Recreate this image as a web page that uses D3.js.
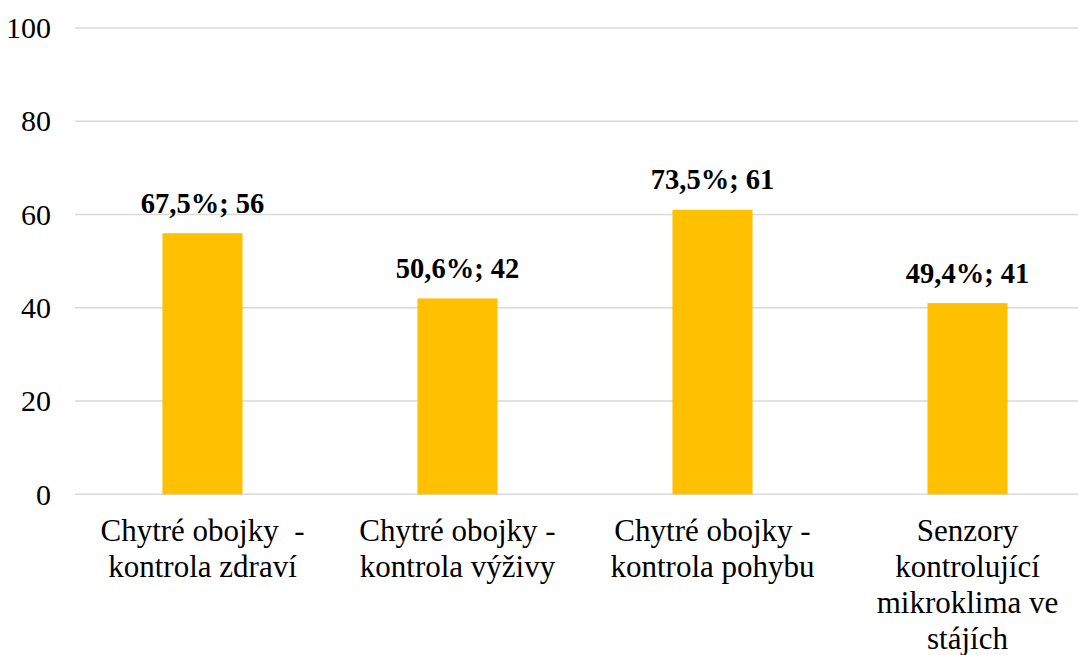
<!DOCTYPE html>
<html><head><meta charset="utf-8">
<script src="https://cdn.jsdelivr.net/npm/d3@7"></script>
<style>html,body{margin:0;padding:0;background:#fff;overflow:hidden}</style>
</head><body>
<svg id="c" width="1078" height="655"></svg>
<script>
const categories = ["Chytré obojky  -\nkontrola zdraví", "Chytré obojky -\nkontrola výživy", "Chytré obojky -\nkontrola pohybu", "Senzory\nkontrolující\nmikroklima ve\nstájích"];
const counts = [56, 42, 61, 41];
const percents = ["67,5%", "50,6%", "73,5%", "49,4%"];
const yTicks = [0, 20, 40, 60, 80, 100];

const FONT = '"Liberation Serif", "Times New Roman", serif';
const svg = d3.select("#c");
const x = d3.scaleBand().domain(d3.range(categories.length)).range([75, 1095]);
const y = d3.scaleLinear().domain([0, 100]).range([494.3, 28]);
const barW = x.bandwidth() * 0.314;

// gridlines
svg.append("g").selectAll("line").data(yTicks).join("line")
  .attr("x1", 75).attr("x2", 1078)
  .attr("y1", d => y(d)).attr("y2", d => y(d))
  .attr("stroke", "#d9d9d9").attr("stroke-width", 1.5);

// y tick labels
svg.append("g").selectAll("text").data(yTicks).join("text")
  .attr("x", 51).attr("y", d => y(d)).attr("dy", "0.34em")
  .attr("text-anchor", "end")
  .style("font-family", FONT).style("font-size", "30px")
  .attr("fill", "#000").text(d => d);

// bars
svg.append("g").selectAll("rect").data(counts).join("rect")
  .attr("x", (d, i) => x(i) + x.bandwidth() / 2 - barW / 2)
  .attr("width", barW)
  .attr("y", d => y(d)).attr("height", d => y(0) - y(d))
  .attr("fill", "#FFC000");

// data labels
svg.append("g").selectAll("text").data(counts).join("text")
  .attr("x", (d, i) => x(i) + x.bandwidth() / 2)
  .attr("y", d => y(d) - 20.5)
  .attr("text-anchor", "middle")
  .style("font-family", FONT).style("font-size", "28.5px").style("font-weight", "bold")
  .attr("fill", "#000")
  .text((d, i) => percents[i] + "; " + d);

// category labels
const cg = svg.append("g");
categories.forEach((c, i) => {
  const t = cg.append("text").attr("text-anchor", "middle")
    .style("font-family", FONT).style("font-size", "31px").attr("fill", "#000");
  c.split("\n").forEach((line, j) => {
    t.append("tspan").attr("x", x(i) + x.bandwidth() / 2).attr("y", 540.5 + j * 36)
      .style("white-space", "pre").text(line);
  });
});
</script>
</body></html>
